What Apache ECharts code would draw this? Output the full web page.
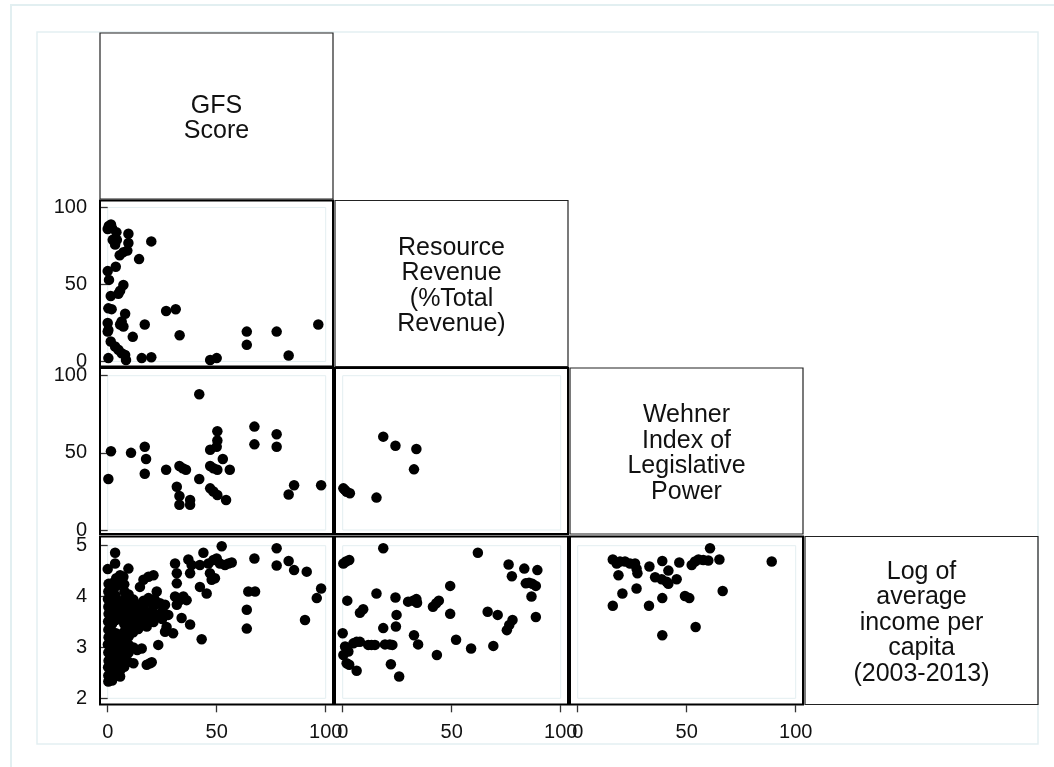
<!DOCTYPE html>
<html>
<head>
<meta charset="utf-8">
<script src="https://cdn.jsdelivr.net/npm/echarts@6/dist/echarts.min.js"></script>
<style>
  html, body { margin: 0; background: #fff; }
  #chart { width: 1054px; height: 767px; }
</style>
</head>
<body>
<div id="chart"></div>
<script>
// variable names shown on the diagonal
const varLabels = [
  'GFS\nScore',
  'Resource\nRevenue\n(%Total\nRevenue)',
  'Wehner\nIndex of\nLegislative\nPower',
  'Log of\naverage\nincome per\ncapita\n(2003-2013)'
]

// tick values
const pctTicks = { min: 0, max: 100, interval: 50 }
const incomeTicks = { min: 2, max: 5, interval: 1 }

// Resource revenue (y) vs GFS score (x)
const gfsResource = [
  [0.5, 88], [1.5, 89], [0, 86], [2, 86.5], [4, 84], [4.2, 79], [9.5, 83],
  [9.5, 77], [9, 72], [7.2, 71], [5.5, 69], [2.3, 79], [3.4, 76], [20, 78],
  [14.4, 66.5], [3.7, 61.5], [0, 58.7], [0.6, 53], [7.2, 49.7], [5.7, 46],
  [4.9, 44], [1.4, 42.5], [0.3, 34.5], [1.8, 34], [8, 31], [6.4, 26],
  [5.7, 24], [7.2, 22.7], [0, 25], [0.3, 20.5], [0, 19.4], [17, 24],
  [26.8, 32.8], [31.2, 33.9], [33, 17], [11.5, 16], [1.4, 13], [3.4, 9.7],
  [4.9, 7.6], [6.4, 5.4], [8, 4.3], [8.4, 1], [0.3, 2.2], [15.6, 2.2],
  [20, 2.8], [47, 1], [50, 2.2], [63.8, 19.4], [63.8, 10.8], [77.5, 19.4],
  [83, 3.9], [96.6, 24]
]

// Wehner index (y) vs GFS score (x)
const gfsWehner = [
  [0.3, 33], [1.5, 51], [10.7, 50], [17, 54], [17.6, 46], [17, 36.5],
  [26.8, 39], [32.9, 41.5], [34.4, 40], [35.9, 39], [31.7, 28], [32.9, 22],
  [32.9, 16.4], [37.8, 19.4], [37.8, 16.4], [42, 88], [42, 33], [47, 52],
  [50, 54], [50.3, 58], [50.3, 64], [47, 41.5], [48.5, 40], [50.3, 39],
  [47, 27], [48.5, 25], [50.3, 22.7], [52.8, 46], [56, 39], [54.3, 19.4],
  [67.3, 67], [67.3, 55.5], [77.5, 62], [77.5, 54], [83, 23], [85.5, 29],
  [97.9, 29]
]

// Wehner index (y) vs resource revenue (x)
const resourceWehner = [
  [18.6, 60.5], [24.2, 54.6], [33.8, 52.5], [32.7, 39.3], [0.3, 27],
  [1, 26], [1.8, 24.8], [3.3, 23.8], [15.5, 21]
]

// Log income (y) vs GFS score (x)
const gfsIncome = [
  [0, 4.54], [3.4, 4.86], [3.4, 4.65], [5.7, 4.42], [9.5, 4.55], [7.2, 4.39],
  [0.3, 2.33], [5.7, 2.43], [9.5, 2.72], [11.8, 2.69], [15.6, 2.98],
  [17.9, 2.66], [19.4, 2.69], [20.2, 2.71], [14.8, 4.19], [16.4, 4.33],
  [18.7, 4.39], [21, 4.42], [22.5, 4.1], [24, 3.87], [26.3, 3.84],
  [23.2, 3.64], [27.8, 3.64], [27, 3.4], [26.3, 3.31], [30, 3.28], [23.2, 3.05],
  [18.7, 3.97], [19.4, 3.9], [15.6, 3.74], [18, 3.67], [19.4, 3.57],
  [14.8, 3.47], [17.9, 3.41], [30.9, 4.65], [31.7, 4.46], [31.7, 4.26],
  [30.9, 4.0], [31.7, 3.84], [33.2, 3.93], [34.7, 4.0], [36.2, 3.93],
  [33.9, 3.58], [37.8, 3.45], [43.1, 3.16], [37.8, 4.46], [38.5, 4.62],
  [37, 4.73], [42.3, 4.62], [43.9, 4.86], [42.3, 4.19], [45.4, 4.06],
  [46.9, 4.46], [47.7, 4.33], [49.2, 4.36], [46.2, 4.65], [48.5, 4.72],
  [50, 4.75], [51.5, 4.65], [52.3, 4.99], [53.8, 4.62], [55.4, 4.65],
  [56.9, 4.67], [63.8, 3.74], [63.8, 3.37], [64.5, 4.1], [67.6, 4.1],
  [67.3, 4.75], [77.5, 4.95], [77.5, 4.61], [83, 4.7], [85.5, 4.52],
  [91.3, 4.49], [90.5, 3.54], [95.9, 3.97], [97.9, 4.16],
  // dense group near zero
  [0.3, 2.45], [0.2, 2.61], [0.4, 2.74], [0.3, 2.9], [0.1, 3.06], [0.4, 3.2],
  [0.3, 3.35], [0.2, 3.51], [0.4, 3.66], [0.3, 3.8], [0.1, 3.95], [0.3, 4.1],
  [0.4, 4.25], [2, 2.35], [2.1, 2.52], [1.9, 2.68], [2.2, 2.84], [2, 3.0],
  [1.8, 3.16], [2.1, 3.3], [2, 3.46], [2.2, 3.62], [1.9, 3.78], [2, 3.94],
  [2.1, 4.1], [2, 4.26], [3.8, 2.48], [3.9, 2.64], [3.7, 2.8], [3.8, 2.96],
  [4, 3.12], [3.8, 3.28], [3.7, 3.54], [3.9, 3.7], [3.8, 3.86], [3.6, 4.02],
  [3.8, 4.2], [3.9, 4.36], [5.8, 2.55], [5.9, 2.7], [5.7, 2.86], [5.8, 3.02],
  [6, 3.18], [5.8, 3.56], [5.7, 3.72], [5.9, 3.88], [5.8, 4.26], [7.6, 2.62],
  [7.5, 2.8], [7.7, 2.98], [7.6, 3.14], [7.4, 3.3], [7.6, 3.46], [7.8, 3.62],
  [7.6, 3.78], [7.5, 3.94], [7.7, 4.1], [7.6, 4.24], [9.6, 2.9], [9.5, 3.06],
  [9.7, 3.22], [9.6, 3.4], [9.4, 3.56], [9.6, 3.72], [9.8, 3.88], [9.6, 4.04],
  [11.8, 3.0], [11.7, 3.3], [11.9, 3.46], [11.8, 3.62], [11.6, 3.78],
  [11.8, 3.94], [14, 3.36], [14.2, 3.52], [13.9, 3.68], [14, 3.84], [13.5, 2.95],
  [16.5, 3.45], [16.4, 3.6], [16.6, 3.76], [16.5, 3.92], [21, 3.5], [21.2, 3.66],
  [20.9, 3.8], [21.5, 3.95], [25, 3.56], [25.2, 3.72]
]

// Log income (y) vs resource revenue (x)
const resourceIncome = [
  [0.3, 4.65], [1.5, 4.69], [3, 4.72], [18.6, 4.95], [62, 4.86], [76.1, 4.63],
  [77.6, 4.4], [83.3, 4.55], [89.3, 4.52], [84, 4.26], [85.5, 4.27], [87, 4.25],
  [88.6, 4.21], [86.6, 4.0], [88.6, 3.6], [49.3, 4.21], [49.3, 3.66],
  [15.5, 4.06], [24.2, 3.98], [30, 3.9], [32.3, 3.92], [33.8, 3.95],
  [34.1, 3.88], [41.4, 3.8], [42.9, 3.87], [44.1, 3.92], [2.1, 3.92],
  [7.9, 3.68], [9.4, 3.75], [24.7, 3.64], [24.4, 3.41], [18.6, 3.38],
  [66.5, 3.7], [71.1, 3.64], [77.9, 3.54], [76.4, 3.44], [75.3, 3.34],
  [0, 3.28], [32.7, 3.24], [34.6, 3.06], [52, 3.15], [58.9, 2.98], [69.1, 3.03],
  [43.2, 2.85], [1.1, 3.02], [0.3, 2.85], [2.6, 2.92], [4.9, 3.08], [6.4, 3.11],
  [7.9, 3.11], [11.7, 3.05], [13.2, 3.05], [14.8, 3.05], [19.4, 3.06],
  [21.6, 3.06], [22.8, 3.05], [1.8, 2.69], [3, 2.66], [6.4, 2.54], [22.1, 2.67],
  [25.9, 2.43]
]

// Log income (y) vs Wehner index (x)
const wehnerIncome = [
  [16.1, 4.73], [17.9, 4.65], [19.4, 4.69], [21.7, 4.69], [24, 4.65],
  [26.3, 4.65], [18.7, 4.42], [27, 4.55], [27.4, 4.46], [32.9, 4.59],
  [38.8, 4.7], [41.6, 4.51], [35.5, 4.38], [38.5, 4.34], [40.8, 4.29],
  [41.6, 4.25], [45.4, 4.34], [46.6, 4.67], [52.3, 4.62], [53.8, 4.69],
  [55.4, 4.73], [57.6, 4.72], [59.9, 4.71], [60.7, 4.95], [65, 4.73],
  [89, 4.69], [20.5, 4.06], [27, 4.16], [16.1, 3.82], [32.7, 3.82],
  [38.8, 3.97], [49.2, 4.01], [51.2, 3.97], [66.5, 4.11], [38.8, 3.24],
  [54.1, 3.4]
]

const FONT = '"Liberation Sans", Arial, sans-serif'
const colLeft = [100, 335, 570, 805]
const boxW = 233
const rowTop = [33, 200.5, 368, 536.5]
const boxH = [166, 166, 166, 168]
const plotLeft = [107.7, 342.7, 577.7]
const plotTop = [0, 207.5, 375.7, 545.7]
const plotH = [0, 154, 154.3, 152.6]

const panels = [
  { row: 1, col: 0, data: gfsResource },
  { row: 2, col: 0, data: gfsWehner },
  { row: 2, col: 1, data: resourceWehner },
  { row: 3, col: 0, data: gfsIncome },
  { row: 3, col: 1, data: resourceIncome },
  { row: 3, col: 2, data: wehnerIncome }
]

const tickStyle = { show: true, length: 7, lineStyle: { color: '#333', width: 1.3 } }
const labelStyle = { color: '#111', fontSize: 20, fontFamily: FONT }

const grids = [], xAxes = [], yAxes = [], series = []
panels.forEach((p, i) => {
  grids.push({
    left: plotLeft[p.col], top: plotTop[p.row], width: 218, height: plotH[p.row],
    show: true, borderColor: '#e3eef1', borderWidth: 1, backgroundColor: 'transparent'
  })
  xAxes.push({
    gridIndex: i, type: 'value', ...pctTicks,
    show: p.row === 3, position: 'bottom', offset: 7,
    axisLine: { show: false }, axisTick: tickStyle, splitLine: { show: false },
    axisLabel: { ...labelStyle, margin: 17 }
  })
  yAxes.push({
    gridIndex: i, type: 'value', ...(p.row === 3 ? incomeTicks : pctTicks),
    show: p.col === 0, position: 'left', offset: 7.7,
    axisLine: { show: false }, axisTick: tickStyle, splitLine: { show: false },
    axisLabel: { ...labelStyle, margin: 13, padding: [5, 0, 0, 0] }
  })
  series.push({
    type: 'scatter', xAxisIndex: i, yAxisIndex: i, data: p.data,
    symbol: 'circle', symbolSize: 10.5, clip: false, silent: true,
    itemStyle: { color: '#000', opacity: 1 }
  })
})

const graphic = [
  { type: 'rect', shape: { x: 11, y: 5, width: 1100, height: 800 }, style: { fill: 'none', stroke: '#e2eff1', lineWidth: 2 } },
  { type: 'rect', shape: { x: 37, y: 32, width: 1001, height: 712 }, style: { fill: 'none', stroke: '#e4eff2', lineWidth: 1.5 } }
]
// diagonal label boxes
varLabels.forEach((t, k) => {
  graphic.push({
    type: 'rect', z: 10,
    shape: { x: colLeft[k], y: rowTop[k], width: boxW, height: boxH[k] },
    style: { fill: 'none', stroke: '#222', lineWidth: 1.2 }
  })
  graphic.push({
    type: 'text', z: 10,
    x: colLeft[k] + boxW / 2, y: rowTop[k] + boxH[k] / 2 + 2.5,
    style: {
      text: t, fill: '#111', fontSize: 25, fontFamily: FONT, lineHeight: 25.5,
      align: 'center', verticalAlign: 'middle'
    }
  })
})
// scatter panel frames
panels.forEach(p => {
  graphic.push({
    type: 'rect', z: 10,
    shape: { x: colLeft[p.col], y: rowTop[p.row], width: boxW, height: boxH[p.row] },
    style: { fill: 'none', stroke: '#000', lineWidth: 2 }
  })
})

const chart = echarts.init(document.getElementById('chart'), null, { renderer: 'canvas' })
chart.setOption({
  backgroundColor: '#fff',
  animation: false,
  grid: grids,
  xAxis: xAxes,
  yAxis: yAxes,
  series,
  graphic
})
</script>
</body>
</html>
